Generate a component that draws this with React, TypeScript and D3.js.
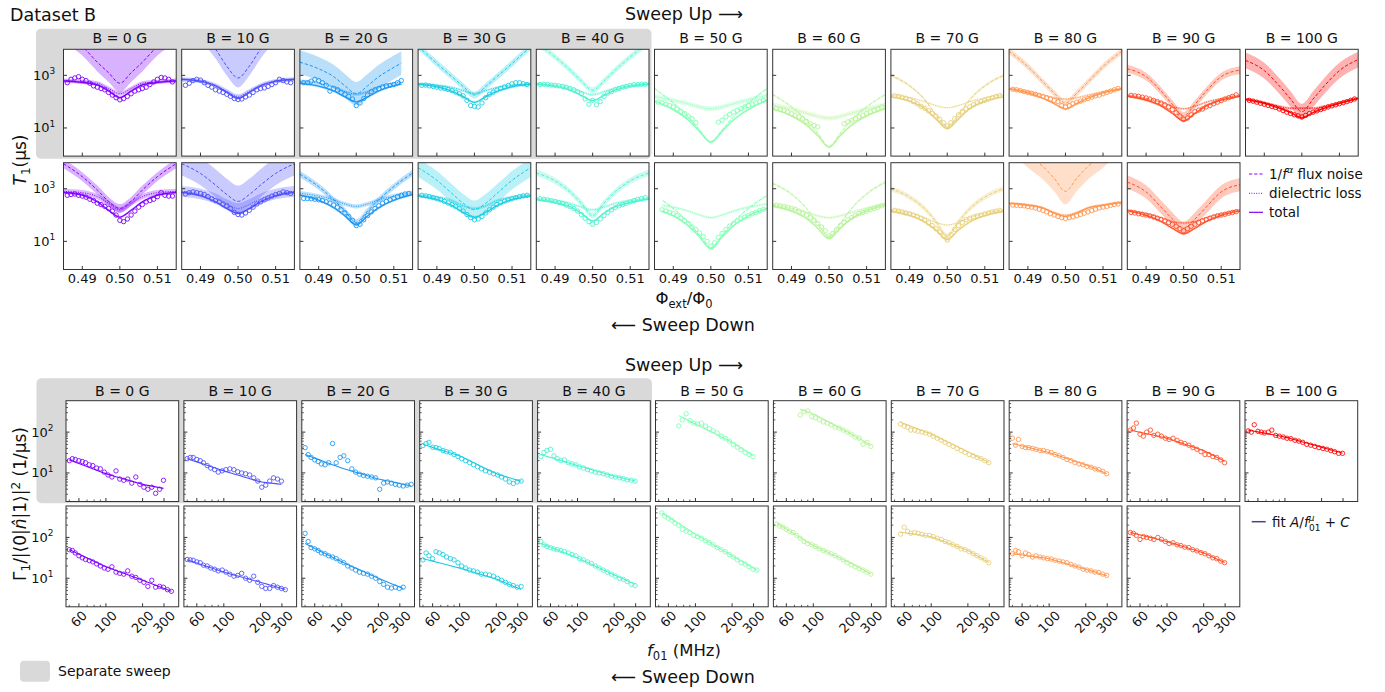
import React from "react";
import * as d3 from "d3";

const FONT = "'DejaVu Sans', Verdana, sans-serif";
const W = 1385;
const H = 692;

// ---------------- data ----------------
const FIELDS = [0, 10, 20, 30, 40, 50, 60, 70, 80, 90, 100];
const FLUX_GRID = [0.486, 0.487, 0.488, 0.489, 0.49, 0.491, 0.492, 0.493, 0.494, 0.495, 0.496, 0.497, 0.498, 0.499, 0.5, 0.501, 0.502, 0.503, 0.504, 0.505, 0.506, 0.507, 0.508, 0.509, 0.51, 0.511, 0.512, 0.513, 0.514];
const CURVE_FLUX = [0.485, 0.49, 0.494, 0.497, 0.5, 0.503, 0.506, 0.51, 0.515];
const FLUX_TICKS = [0.49, 0.5, 0.51];
const FLUX_TICK_LABELS = ["0.49", "0.50", "0.51"];
const T1_YTICKS = [10, 1000];
const T1_YTICK_EXP = ["1", "3"];

// log10(T1 / us), sweep up (top row)
const t1UpData: (number | null)[][] = [
  [2.72, 2.85, 2.9, 2.95, 2.85, 2.8, 2.7, 2.6, 2.55, 2.5, 2.45, 2.35, 2.25, 2.15, 2.07, 2.12, 2.2, 2.3, 2.4, 2.45, 2.5, 2.55, 2.65, 2.75, 2.85, 2.92, 2.9, 2.85, 2.75],
  [2.62, 2.7, 2.8, 2.85, 2.82, 2.72, 2.62, 2.55, 2.45, 2.4, 2.35, 2.28, 2.2, 2.12, 2.08, 2.1, 2.18, 2.25, 2.35, 2.45, 2.5, 2.52, 2.58, 2.65, 2.72, 2.85, 2.8, 2.75, 2.72],
  [2.72, 2.72, 2.78, 2.85, 2.8, 2.72, 2.62, 2.4, 2.5, 2.45, 2.35, 2.28, 2.2, 2.1, 1.85, 1.95, 2.12, 2.25, 2.38, 2.45, 2.5, 2.56, 2.6, 2.62, 2.65, 2.72, 2.8, null, null],
  [2.62, 2.63, 2.6, 2.58, 2.55, 2.52, 2.5, 2.46, 2.42, 2.36, 2.3, 2.22, 2.05, 1.85, 1.82, 1.8, 1.95, 2.15, 2.28, 2.36, 2.44, 2.5, 2.56, 2.62, 2.68, 2.72, 2.72, 2.68, 2.65],
  [2.65, 2.66, 2.65, 2.63, 2.62, 2.6, 2.58, 2.55, 2.5, 2.45, 2.38, 2.3, 2.1, 1.9, 2.05, 1.88, 2.0, 2.2, 2.32, 2.38, 2.45, 2.5, 2.55, 2.58, 2.62, 2.64, 2.65, 2.66, 2.66],
  [1.98, 1.95, 1.9, 1.85, 1.8, 1.72, 1.62, 1.55, 1.45, 1.35, 1.2, null, null, null, null, null, 1.22, 1.3, 1.42, 1.52, 1.6, 1.67, 1.73, 1.8, 1.85, 1.9, 1.95, 2.0, 2.05],
  [1.73, 1.7, 1.67, 1.61, 1.54, 1.48, 1.42, 1.35, 1.25, 1.16, 1.1, 1.04, null, null, null, null, null, null, 1.16, 1.23, 1.29, 1.35, 1.42, 1.48, 1.55, 1.61, 1.67, 1.73, 1.8],
  [2.22, 2.2, 2.17, 2.13, 2.08, 2.0, 1.92, 1.82, 1.75, 1.65, 1.55, 1.45, 1.33, 1.2, 1.08, 1.2, 1.35, 1.5, 1.62, 1.72, 1.8, 1.88, 1.95, 2.0, 2.05, 2.1, 2.15, 2.2, 2.23],
  [2.47, 2.45, 2.42, 2.38, 2.35, 2.32, 2.28, 2.24, 2.2, 2.15, 2.1, 2.05, 2.0, 1.85, 1.8, 1.85, 1.92, 1.98, 2.02, 2.07, 2.12, 2.17, 2.22, 2.25, 2.3, 2.35, 2.4, 2.45, 2.5],
  [2.24, 2.22, 2.2, 2.17, 2.14, 2.1, 2.05, 2.0, 1.95, 1.88, 1.8, 1.7, 1.58, 1.45, 1.32, 1.38, 1.5, 1.62, 1.68, 1.72, 1.8, 1.85, 1.92, 1.98, 2.04, 2.1, 2.15, 2.2, 2.26],
  [2.05, 2.02, 1.98, 1.94, 1.9, 1.86, 1.82, 1.78, 1.72, 1.66, 1.6, 1.55, 1.5, 1.46, 1.42, 1.48, 1.55, 1.6, 1.65, 1.7, 1.75, 1.8, 1.84, 1.88, 1.92, 1.96, 2.0, 2.05, 2.1],
];
// 1/f^alpha flux-noise limit (log10 us) at CURVE_FLUX
const t1UpFlux = [
  [4.6, 4.1, 3.5, 3.1, 2.7, 3.1, 3.5, 4.1, 4.6],
  [5.5, 4.7, 4.0, 3.35, 2.9, 3.35, 4.0, 4.7, 5.5],
  [3.5, 3.25, 2.95, 2.6, 2.3, 2.6, 2.95, 3.3, 3.7],
  [4.1, 3.45, 2.95, 2.58, 2.25, 2.58, 2.95, 3.45, 4.1],
  [4.25, 3.7, 3.2, 2.78, 2.43, 2.78, 3.2, 3.7, 4.25],
  [2.5, 1.95, 1.42, 0.92, 0.48, 0.92, 1.42, 1.95, 2.5],
  [2.27, 1.8, 1.3, 0.8, 0.3, 0.8, 1.3, 1.8, 2.27],
  [3.0, 2.6, 2.08, 1.5, 1.05, 1.5, 2.08, 2.6, 3.0],
  [3.92, 3.33, 2.75, 2.32, 1.95, 2.32, 2.75, 3.33, 3.92],
  [3.25, 2.95, 2.4, 1.9, 1.45, 1.9, 2.4, 2.95, 3.2],
  [3.57, 3.18, 2.6, 2.1, 1.62, 2.1, 2.6, 3.18, 3.6],
];
const t1UpFluxBand = [[0.35, 2], [0.36, 2], [0.45, 0.45], [0.13, 0.13], [0.12, 0.12], [0.04, 0.04], [0.04, 0.04], [0.05, 0.05], [0.12, 0.12], [0.15, 0.15], [0.3, 0.3]];
// dielectric-loss limit (log10 us)
const t1UpDiel = [
  [2.8, 2.75, 2.7, 2.5, 2.3, 2.5, 2.7, 2.75, 2.8],
  [2.85, 2.78, 2.62, 2.4, 2.2, 2.4, 2.62, 2.78, 2.85],
  [2.78, 2.7, 2.55, 2.38, 2.28, 2.38, 2.55, 2.7, 2.8],
  [2.68, 2.62, 2.54, 2.42, 2.3, 2.42, 2.54, 2.62, 2.68],
  [2.68, 2.62, 2.52, 2.38, 2.26, 2.38, 2.52, 2.62, 2.68],
  [2.2, 2.05, 1.92, 1.8, 1.73, 1.8, 1.92, 2.07, 2.25],
  [1.88, 1.72, 1.56, 1.44, 1.37, 1.44, 1.56, 1.72, 1.88],
  [2.26, 2.15, 2.0, 1.85, 1.77, 1.85, 2.0, 2.15, 2.26],
  [2.5, 2.38, 2.25, 2.15, 2.1, 2.15, 2.25, 2.38, 2.5],
  [2.25, 2.12, 1.98, 1.82, 1.73, 1.82, 1.98, 2.12, 2.25],
  [2.1, 1.96, 1.82, 1.75, 1.75, 1.75, 1.82, 1.96, 2.14],
];
const t1UpDielBand = [0.08, 0.08, 0.06, 0.05, 0.05, 0.09, 0.09, 0.03, 0.04, 0.04, 0.05];

// sweep down (bottom row, B = 0..90 G)
const t1DownData: (number | null)[][] = [
  [2.75, 2.78, 2.8, 2.75, 2.72, 2.68, 2.6, 2.55, 2.45, 2.4, 2.33, 2.25, 2.15, 2.0, 1.8, 1.75, 1.85, 2.0, 2.15, 2.3, 2.4, 2.5, 2.55, 2.6, 2.7, 2.85, 2.75, 2.72, 2.72],
  [2.8, 2.85, 2.88, 2.85, 2.82, 2.78, 2.7, 2.62, 2.55, 2.5, 2.42, 2.35, 2.25, 2.1, 2.02, 2.0, 2.08, 2.18, 2.3, 2.42, 2.5, 2.58, 2.65, 2.72, 2.78, 2.82, 2.88, 2.85, 2.82],
  [2.63, 2.63, 2.62, 2.6, 2.58, 2.55, 2.5, 2.45, 2.38, 2.3, 2.2, 2.08, 1.95, 1.8, 1.6, 1.65, 1.82, 1.98, 2.12, 2.25, 2.35, 2.45, 2.52, 2.58, 2.64, 2.7, 2.75, 2.8, 2.82],
  [2.75, 2.73, 2.7, 2.66, 2.62, 2.58, 2.52, 2.46, 2.4, 2.33, 2.25, 2.15, 2.02, 1.9, 1.82, 1.85, 1.95, 2.08, 2.2, 2.3, 2.4, 2.47, 2.53, 2.58, 2.62, 2.66, 2.7, 2.73, 2.75],
  [2.62, 2.6, 2.58, 2.55, 2.52, 2.48, 2.44, 2.38, 2.32, 2.25, 2.15, 2.02, 1.88, 1.75, 1.65, 1.72, 1.85, 1.98, 2.1, 2.2, 2.28, 2.35, 2.4, 2.45, 2.5, 2.55, 2.6, 2.63, 2.66],
  [null, 2.2, 2.15, 2.1, 2.05, 1.98, 1.88, 1.78, 1.68, 1.55, 1.45, 1.32, 1.18, 1.0, 0.82, 0.95, 1.15, 1.3, 1.45, 1.58, 1.68, 1.78, 1.85, 1.92, 1.98, 2.05, 2.1, 2.17, 2.22],
  [2.37, 2.35, 2.33, 2.3, 2.26, 2.22, 2.15, 2.08, 2.0, 1.9, 1.8, 1.68, 1.55, 1.4, 1.2, 1.3, 1.45, 1.6, 1.72, 1.82, 1.9, 1.98, 2.05, 2.1, 2.15, 2.2, 2.25, 2.3, 2.35],
  [2.18, 2.15, 2.12, 2.08, 2.05, 2.0, 1.95, 1.88, 1.8, 1.7, 1.6, 1.48, 1.35, 1.2, 1.05, 1.25, 1.45, 1.6, 1.72, 1.82, 1.88, 1.93, 1.97, 2.0, 2.04, 2.08, 2.12, 2.15, 2.18],
  [2.38, 2.37, 2.36, 2.35, 2.32, 2.3, 2.27, 2.22, 2.18, 2.12, 2.05, 2.0, 1.95, 1.9, 1.87, 1.9, 1.93, 1.97, 2.02, 2.07, 2.12, 2.17, 2.22, 2.27, 2.3, 2.33, 2.37, 2.4, 2.42],
  [2.1, 2.08, 2.05, 2.03, 2.0, 1.97, 1.93, 1.88, 1.83, 1.78, 1.72, 1.65, 1.57, 1.48, 1.4, 1.48, 1.57, 1.65, 1.72, 1.78, 1.83, 1.88, 1.93, 1.97, 2.0, 2.03, 2.07, 2.1, 2.13],
];
const t1DownFlux = [
  [3.95, 3.46, 2.95, 2.52, 2.25, 2.52, 2.95, 3.46, 3.95],
  [3.95, 3.58, 3.14, 2.78, 2.52, 2.78, 3.14, 3.58, 3.95],
  [3.55, 3.08, 2.58, 2.15, 1.72, 2.15, 2.58, 3.08, 3.6],
  [3.8, 3.32, 2.82, 2.45, 2.2, 2.45, 2.82, 3.32, 3.8],
  [3.6, 3.3, 2.88, 2.45, 1.98, 2.45, 2.88, 3.3, 3.6],
  [2.75, 2.25, 1.73, 1.23, 0.75, 1.23, 1.73, 2.25, 2.75],
  [3.2, 2.8, 2.25, 1.68, 1.18, 1.68, 2.25, 2.8, 3.25],
  [3.0, 2.68, 2.24, 1.75, 1.2, 1.75, 2.24, 2.68, 3.0],
  [5.0, 4.3, 3.85, 3.4, 2.9, 3.4, 3.85, 4.3, 5.0],
  [3.25, 2.88, 2.3, 1.85, 1.5, 1.85, 2.3, 2.88, 3.15],
];
const t1DownFluxBand = [[0.17, 0.17], [0.45, 0.6], [0.12, 0.12], [0.35, 0.35], [0.12, 0.12], [0.04, 0.04], [0.05, 0.05], [0.1, 0.1], [0.5, 2], [0.25, 0.25]];
const t1DownDiel = [
  [2.9, 2.85, 2.7, 2.45, 2.2, 2.45, 2.7, 2.85, 2.9],
  [2.9, 2.8, 2.62, 2.4, 2.25, 2.4, 2.62, 2.8, 2.9],
  [2.83, 2.72, 2.58, 2.42, 2.33, 2.42, 2.58, 2.72, 2.85],
  [2.76, 2.68, 2.55, 2.35, 2.25, 2.35, 2.55, 2.68, 2.76],
  [2.63, 2.55, 2.45, 2.3, 2.2, 2.3, 2.45, 2.55, 2.65],
  [2.4, 2.3, 2.15, 2.0, 1.9, 2.0, 2.15, 2.3, 2.42],
  [2.4, 2.25, 2.1, 1.97, 1.9, 1.97, 2.1, 2.27, 2.45],
  [2.2, 2.08, 1.9, 1.72, 1.62, 1.72, 1.9, 2.08, 2.2],
  [2.45, 2.38, 2.28, 2.1, 2.0, 2.1, 2.28, 2.38, 2.48],
  [2.2, 2.05, 1.9, 1.75, 1.7, 1.75, 1.9, 2.05, 2.2],
];
const t1DownDielBand = [0.1, 0.2, 0.08, 0.06, 0.05, 0.05, 0.05, 0.03, 0.04, 0.04];

// Gamma_1 / |<0|n|1>|^2  (log10 1/us) vs f01 (MHz)
const F_GRID = [50, 53, 56, 60, 64, 68, 73, 78, 84, 90, 97, 104, 112, 121, 130, 140, 151, 163, 176, 190, 205, 221, 238, 256, 276, 297, 320, 345, 372];
const F_TICKS_LABELED = [60, 100, 200, 300];
const F_TICKS_MINOR = [50, 70, 80, 90];
const G_YTICKS = [10, 100];
const G_YTICK_EXP = ["1", "2"];
const G_YMINOR = [3, 4, 5, 6, 7, 8, 9, 20, 30, 40, 50, 60, 70, 80, 90, 200, 300, 400, 500];
const FIT_F = [50, 100, 200, 300];

const gUpData: (number | null)[][] = [
  [1.3, 1.35, 1.33, 1.3, 1.28, 1.25, 1.2, 1.18, 1.12, 1.1, 1.02, 0.95, 0.9, 1.05, 0.85, 0.82, 0.85, 0.75, 0.9, 0.72, 0.65, 0.6, 0.65, 0.5, 0.6, 0.82, null, null, null],
  [1.35, 1.38, 1.38, 1.33, 1.3, 1.25, 1.18, 1.12, 1.08, 1.02, 1.05, 1.08, 1.1, 1.08, 1.03, 1.0, 0.98, 0.95, 0.88, 0.8, 0.65, 0.7, 0.8, 0.88, 0.85, 0.8, null, null, null],
  [1.62, 1.45, 1.38, 1.32, 1.28, 1.22, 1.2, 1.25, 1.72, 1.25, 1.38, 1.42, 1.3, 1.1, 1.02, 0.97, 0.94, 0.92, 0.9, 0.88, 0.6, 0.75, 0.78, 0.75, 0.72, 0.7, 0.68, 0.7, 0.72],
  [1.67, 1.72, 1.75, 1.63, 1.62, 1.6, 1.55, 1.52, 1.5, 1.45, 1.4, 1.35, 1.3, 1.25, 1.2, 1.15, 1.1, 1.05, 1.02, 0.98, 0.95, 0.9, 0.85, 0.78, 0.74, 0.78, 0.8, null, null],
  [1.4, 1.5, 1.55, 1.58, 1.42, 1.35, 1.3, 1.32, 1.25, 1.22, 1.2, 1.15, 1.12, 1.08, 1.05, 1.02, 1.0, 0.98, 0.95, 0.92, 0.9, 0.88, 0.86, 0.83, 0.82, 0.8, null, null, null],
  [null, null, null, null, null, null, 2.15, 2.3, 2.45, 2.28, 2.22, 2.2, 2.22, 2.15, 2.08, 2.03, 1.98, 1.9, 1.85, 1.78, 1.7, 1.63, 1.57, 1.5, 1.45, 1.4, null, null, null],
  [null, null, null, null, null, null, null, 2.42, 2.5, 2.52, 2.38, 2.35, 2.3, 2.25, 2.22, 2.18, 2.12, 2.1, 2.05, 2.0, 1.95, 1.88, 1.85, 1.7, 1.75, 1.65, null, null, null],
  [null, null, 2.2, 2.15, 2.12, 2.05, 2.05, 2.02, 2.0, 1.98, 1.95, 1.9, 1.85, 1.8, 1.75, 1.7, 1.65, 1.6, 1.55, 1.5, 1.45, 1.42, 1.38, 1.35, 1.3, 1.25, null, null, null],
  [1.85, 1.68, 1.82, 1.65, 1.62, 1.62, 1.6, 1.58, 1.55, 1.55, 1.52, 1.5, 1.45, 1.42, 1.38, 1.33, 1.3, 1.25, 1.22, 1.2, 1.16, 1.14, 1.1, 1.08, 1.04, 0.98, null, null, null],
  [2.05, 2.1, 2.22, 1.95, 1.9, 2.0, 2.05, 1.92, 1.95, 1.9, 1.85, 1.82, 1.85, 1.8, 1.75, 1.72, 1.68, 1.62, 1.58, 1.52, 1.45, 1.45, 1.4, 1.38, 1.32, 1.25, null, null, null],
  [2.03, 2.0, 2.18, 2.02, 2.0, 1.98, 2.0, 2.05, 1.92, 1.9, 1.88, 1.85, 1.84, 1.8, 1.78, 1.75, 1.7, 1.68, 1.65, 1.62, 1.6, 1.58, 1.55, 1.52, 1.48, 1.48, null, null, null],
];
const gUpFit = [
  [1.32, 0.98, 0.72, 0.62],
  [1.35, 1.05, 0.78, 0.72],
  [1.45, 1.12, 0.85, 0.74],
  [1.7, 1.42, 0.98, 0.82],
  [1.45, 1.18, 0.92, 0.8],
  [2.65, 2.2, 1.75, 1.42],
  [2.75, 2.45, 1.97, 1.67],
  [2.3, 1.95, 1.52, 1.25],
  [1.72, 1.5, 1.2, 0.98],
  [2.05, 1.85, 1.55, 1.28],
  [2.05, 1.88, 1.63, 1.48],
];
const gDownData: (number | null)[][] = [
  [1.7, 1.68, 1.62, 1.55, 1.5, 1.46, 1.43, 1.4, 1.35, 1.3, 1.25, 1.22, 1.28, 1.15, 1.12, 1.1, 1.18, 1.05, 1.02, 0.95, 0.9, 0.8, 0.95, 0.78, 0.8, 0.78, 0.72, 0.68, null],
  [1.46, 1.45, 1.44, 1.4, 1.38, 1.32, 1.3, 1.25, 1.22, 1.18, 1.2, 1.15, 1.1, 1.05, 1.07, 1.12, 1.0, 0.95, 1.05, 0.9, 0.8, 0.75, 0.75, 0.82, 0.78, 0.75, 0.72, null, null],
  [2.1, 1.9, 1.75, 1.72, 1.68, 1.62, 1.6, 1.55, 1.52, 1.48, 1.42, 1.38, 1.3, 1.25, 1.2, 1.15, 1.12, 1.1, 1.05, 1.0, 0.92, 0.85, 0.78, 0.76, 0.78, 0.75, 0.78, null, null],
  [1.45, 1.62, 1.55, 1.48, 1.65, 1.62, 1.58, 1.52, 1.48, 1.45, 1.38, 1.3, 1.25, 1.2, 1.18, 1.15, 1.1, 1.1, 1.08, 1.05, 1.0, 0.95, 0.9, 0.85, 0.82, 0.78, 0.8, null, null],
  [1.9, 1.82, 1.78, 1.75, 1.72, 1.7, 1.68, 1.65, 1.62, 1.58, 1.55, 1.48, 1.45, 1.4, 1.36, 1.3, 1.25, 1.2, 1.15, 1.1, 1.05, 1.0, 0.97, 0.92, 0.85, 0.82, null, null, null],
  [null, 2.6, 2.52, 2.47, 2.42, 2.35, 2.3, 2.2, 2.15, 2.12, 2.05, 2.02, 1.98, 1.92, 1.87, 1.82, 1.75, 1.7, 1.65, 1.58, 1.52, 1.45, 1.38, 1.35, 1.28, 1.22, 1.2, null, null],
  [2.33, 2.28, 2.25, 2.2, 2.15, 2.12, 2.05, 1.98, 1.9, 1.85, 1.82, 1.78, 1.72, 1.68, 1.64, 1.6, 1.55, 1.5, 1.45, 1.38, 1.33, 1.28, 1.24, 1.2, 1.15, 1.1, null, null, null],
  [null, null, 2.08, 2.25, 2.15, 2.1, 2.12, 2.1, 2.08, 2.05, 2.05, 2.02, 1.98, 1.95, 1.9, 1.87, 1.82, 1.78, 1.72, 1.7, 1.65, 1.6, 1.55, 1.5, 1.45, 1.38, null, null, null],
  [1.6, 1.68, 1.65, 1.55, 1.62, 1.58, 1.52, 1.55, 1.52, 1.5, 1.48, 1.47, 1.44, 1.42, 1.4, 1.38, 1.34, 1.3, 1.27, 1.22, 1.2, 1.18, 1.15, 1.14, 1.1, 1.07, null, null, null],
  [2.12, 2.1, 2.05, 1.95, 2.02, 2.0, 1.98, 1.95, 2.0, 1.95, 1.9, 1.85, 1.87, 1.82, 1.8, 1.76, 1.75, 1.7, 1.67, 1.63, 1.6, 1.55, 1.5, 1.48, 1.42, 1.38, null, null, null],
];
const gDownFit = [
  [1.7, 1.28, 0.95, 0.75],
  [1.45, 1.15, 0.9, 0.75],
  [1.85, 1.4, 1.0, 0.78],
  [1.48, 1.25, 0.98, 0.76],
  [1.85, 1.5, 1.08, 0.85],
  [2.65, 2.08, 1.55, 1.25],
  [2.35, 1.8, 1.38, 1.1],
  [2.15, 2.02, 1.68, 1.38],
  [1.6, 1.48, 1.22, 1.06],
  [2.12, 1.9, 1.62, 1.38],
];

// ---------------- layout ----------------
const PW = 112.7;
const T1_X0 = 63.5;
const T1_STEP = 118.2;
const T1_ROWS = [49.3, 162.7];
const T1_PH = 106.8;
const G_X0 = 66;
const G_STEP = 117.9;
const G_ROWS = [400.7, 506];
const G_PH = 100.8;
const FRAME = "#333";
const GRAY = "#d9d9d9";

const fluxScale = d3.scaleLinear().domain([0.485, 0.515]).range([0, PW]);
const t1Scale = d3.scaleLog().domain([10 ** -0.07, 10 ** 3.99]).range([T1_PH, 0]);
const fScale = d3.scaleLog().domain([47, 396]).range([0, PW]);
const gScale = d3.scaleLog().domain([10 ** 0.3, 10 ** 2.77]).range([G_PH, 0]);

function rainbow(t: number): string {
  const r = Math.min(1, Math.abs(2 * t - 0.5));
  const g = Math.max(0, Math.sin(Math.PI * t));
  const b = Math.max(0, Math.cos((Math.PI * t) / 2));
  return d3.rgb(Math.round(r * 255), Math.round(g * 255), Math.round(b * 255)).formatHex();
}

function lastIndex(arr: (number | null)[]): number {
  let i = arr.length - 1;
  while (i >= 0 && arr[i] == null) i--;
  return i;
}

function Pow10({ x, y, exp }: { x: number; y: number; exp: string }) {
  return (
    <text x={x} y={y} textAnchor="end" fontSize={13} fill="#111">
      10<tspan dy={-5.5} fontSize={9}>{exp}</tspan>
    </text>
  );
}

function T1Panel(props: {
  col: number; row: number; data: (number | null)[]; flux: number[]; diel: number[];
  fluxBand: number[]; dielBand: number; xLabels: boolean;
}) {
  const { col, row, data, flux, diel, fluxBand, dielBand, xLabels } = props;
  const color = rainbow(FIELDS[col] / 100);
  const x0 = T1_X0 + col * T1_STEP;
  const y0 = T1_ROWS[row];
  const total = flux.map((f, i) => -Math.log10(10 ** -f + 10 ** -diel[i]));
  const first = data.findIndex((v) => v != null);
  const last = lastIndex(data);
  const cx0 = first === 0 ? 0 : fluxScale(FLUX_GRID[first]);
  const cx1 = last === data.length - 1 ? PW : fluxScale(FLUX_GRID[last]);
  const line = d3.line<number>().x((_, i) => fluxScale(CURVE_FLUX[i])).y((v) => t1Scale(10 ** v)).curve(d3.curveMonotoneX);
  const band = (lo: number, hi: number) =>
    d3.area<number>().x((_, i) => fluxScale(CURVE_FLUX[i])).y0((v) => t1Scale(10 ** (v - lo))).y1((v) => t1Scale(10 ** (v + hi))).curve(d3.curveMonotoneX);
  const id = `t1c-${row}-${col}`;
  return (
    <g transform={`translate(${x0},${y0})`}>
      <defs>
        <clipPath id={id}><rect x={cx0} y={0} width={cx1 - cx0} height={T1_PH} /></clipPath>
        <clipPath id={id + "p"}><rect x={0} y={0} width={PW} height={T1_PH} /></clipPath>
      </defs>
      <rect width={PW} height={T1_PH} fill="#fff" />
      <g clipPath={`url(#${id})`}>
        <path d={band(fluxBand[0], fluxBand[1])(flux) || ""} fill={color} fillOpacity={0.3} />
        <path d={band(dielBand, dielBand)(diel) || ""} fill={color} fillOpacity={0.28} />
        <path d={band(0.05, 0.05)(total) || ""} fill={color} fillOpacity={0.28} />
        <path d={line(flux) || ""} fill="none" stroke={color} strokeWidth={1} strokeDasharray="3.2,2" />
        <path d={line(diel) || ""} fill="none" stroke={color} strokeWidth={1} strokeDasharray="1,1.4" />
        <path d={line(total) || ""} fill="none" stroke={color} strokeWidth={1.2} />
      </g>
      <g clipPath={`url(#${id}p)`}>
        {data.map((v, i) =>
          v == null ? null : (
            <circle key={i} cx={fluxScale(FLUX_GRID[i])} cy={t1Scale(10 ** v)} r={2.2} fill="none" stroke={color} strokeWidth={1} strokeOpacity={0.9} />
          )
        )}
      </g>
      <rect width={PW} height={T1_PH} fill="none" stroke={FRAME} strokeWidth={1} />
      {FLUX_TICKS.map((t) => (
        <line key={t} x1={fluxScale(t)} x2={fluxScale(t)} y1={T1_PH} y2={T1_PH - 3.5} stroke={FRAME} strokeWidth={1} />
      ))}
      {T1_YTICKS.map((t) => (
        <line key={t} x1={0} x2={3.5} y1={t1Scale(t)} y2={t1Scale(t)} stroke={FRAME} strokeWidth={1} />
      ))}
      {xLabels &&
        FLUX_TICKS.map((t, i) => (
          <text key={t} x={fluxScale(t)} y={T1_PH + 13.5} textAnchor="middle" fontSize={13} fill="#111">
            {FLUX_TICK_LABELS[i]}
          </text>
        ))}
      {col === 0 &&
        T1_YTICKS.map((t, i) => <Pow10 key={t} x={-8.3} y={t1Scale(t) + 4.5} exp={T1_YTICK_EXP[i]} />)}
    </g>
  );
}

function GPanel(props: { col: number; row: number; data: (number | null)[]; fit: number[]; xLabels: boolean }) {
  const { col, row, data, fit, xLabels } = props;
  const color = rainbow(FIELDS[col] / 100);
  const x0 = G_X0 + col * G_STEP;
  const y0 = G_ROWS[row];
  const first = data.findIndex((v) => v != null);
  const last = lastIndex(data);
  const fitScale = d3.scaleLinear().domain(FIT_F.map(Math.log10)).range(fit);
  const fitF = F_GRID.slice(first, last + 1);
  const fitLine = d3.line<number>().x((f) => fScale(f)).y((f) => gScale(10 ** fitScale(Math.log10(f)))).curve(d3.curveMonotoneX);
  const id = `gc-${row}-${col}`;
  return (
    <g transform={`translate(${x0},${y0})`}>
      <defs>
        <clipPath id={id}><rect x={0} y={0} width={PW} height={G_PH} /></clipPath>
      </defs>
      <rect width={PW} height={G_PH} fill="#fff" />
      <g clipPath={`url(#${id})`}>
        <path d={fitLine(fitF) || ""} fill="none" stroke={color} strokeWidth={1.1} />
        {data.map((v, i) =>
          v == null ? null : (
            <circle key={i} cx={fScale(F_GRID[i])} cy={gScale(10 ** v)} r={2.2} fill="none" stroke={color} strokeWidth={1} strokeOpacity={0.85} />
          )
        )}
      </g>
      <rect width={PW} height={G_PH} fill="none" stroke={FRAME} strokeWidth={1} />
      {F_TICKS_LABELED.map((t) => (
        <line key={t} x1={fScale(t)} x2={fScale(t)} y1={G_PH} y2={G_PH - 3.5} stroke={FRAME} strokeWidth={1} />
      ))}
      {F_TICKS_MINOR.map((t) => (
        <line key={t} x1={fScale(t)} x2={fScale(t)} y1={G_PH} y2={G_PH - 2} stroke={FRAME} strokeWidth={0.8} />
      ))}
      {G_YTICKS.map((t) => (
        <line key={t} x1={0} x2={3.5} y1={gScale(t)} y2={gScale(t)} stroke={FRAME} strokeWidth={1} />
      ))}
      {G_YMINOR.map((t) => (
        <line key={t} x1={0} x2={2} y1={gScale(t)} y2={gScale(t)} stroke={FRAME} strokeWidth={0.8} />
      ))}
      {xLabels &&
        F_TICKS_LABELED.map((t) => {
          const s = String(t);
          const w = s.length * 0.636 * 13;
          const half = (0.707 * (w + 9.5)) / 2;
          const cx = fScale(t);
          const cy = G_PH + 3 + half;
          return (
            <text key={t} x={0} y={0} transform={`translate(${cx},${cy}) rotate(-45)`} textAnchor="middle" dominantBaseline="central" fontSize={13} fill="#111">
              {s}
            </text>
          );
        })}
      {col === 0 &&
        G_YTICKS.map((t, i) => <Pow10 key={t} x={-12.5} y={gScale(t) + 4.5} exp={G_YTICK_EXP[i]} />)}
    </g>
  );
}

export default function App() {
  return (
    <svg width={W} height={H} viewBox={`0 0 ${W} ${H}`} style={{ position: "absolute", left: 0, top: 0, background: "#fff" }} fontFamily={FONT}>
      <rect width={W} height={H} fill="#fff" />
      {/* separate-sweep backgrounds */}
      <rect x={36} y={28.7} width={615.5} height={130} rx={5} fill={GRAY} />
      <rect x={36.5} y={378.3} width={615.5} height={125} rx={5} fill={GRAY} />

      <text x={10} y={20.5} fontSize={17.5} fill="#111">Dataset B</text>
      <text x={684} y={19.5} fontSize={17.5} textAnchor="middle" fill="#111">Sweep Up ⟶</text>
      <text x={684} y={370.5} fontSize={17.5} textAnchor="middle" fill="#111">Sweep Up ⟶</text>

      {FIELDS.map((b, i) => (
        <text key={"tt" + b} x={T1_X0 + i * T1_STEP + PW / 2} y={43.3} fontSize={14} textAnchor="middle" fill="#111">{`B = ${b} G`}</text>
      ))}
      {FIELDS.map((b, i) => (
        <text key={"gt" + b} x={G_X0 + i * G_STEP + PW / 2} y={395.5} fontSize={14} textAnchor="middle" fill="#111">{`B = ${b} G`}</text>
      ))}

      {t1UpData.map((d, i) => (
        <T1Panel key={"tu" + i} col={i} row={0} data={d} flux={t1UpFlux[i]} diel={t1UpDiel[i]} fluxBand={t1UpFluxBand[i]} dielBand={t1UpDielBand[i]} xLabels={false} />
      ))}
      {t1DownData.map((d, i) => (
        <T1Panel key={"td" + i} col={i} row={1} data={d} flux={t1DownFlux[i]} diel={t1DownDiel[i]} fluxBand={t1DownFluxBand[i]} dielBand={t1DownDielBand[i]} xLabels={true} />
      ))}
      {gUpData.map((d, i) => (
        <GPanel key={"gu" + i} col={i} row={0} data={d} fit={gUpFit[i]} xLabels={false} />
      ))}
      {gDownData.map((d, i) => (
        <GPanel key={"gd" + i} col={i} row={1} data={d} fit={gDownFit[i]} xLabels={true} />
      ))}

      {/* axis labels */}
      <text transform="translate(26,160) rotate(-90)" textAnchor="middle" fontSize={17} fill="#111">
        <tspan fontStyle="italic">T</tspan><tspan fontSize={12} dy={3.5}>1</tspan><tspan dy={-3.5}>(μs)</tspan>
      </text>
      <text x={684} y={303.5} textAnchor="middle" fontSize={16.5} fill="#111">
        Φ<tspan fontSize={11.5} dy={4}>ext</tspan><tspan dy={-4}>/Φ</tspan><tspan fontSize={11.5} dy={4}>0</tspan>
      </text>
      <text x={683} y={331} textAnchor="middle" fontSize={17.5} fill="#111">⟵ Sweep Down</text>

      <text transform="translate(26,504) rotate(-90)" textAnchor="middle" fontSize={17} fill="#111">
        Γ<tspan fontSize={12} dy={3.5}>1</tspan><tspan dy={-3.5}>/|⟨0|</tspan><tspan fontStyle="italic">n̂</tspan>
        <tspan>|1⟩|</tspan><tspan fontSize={12} dy={-6}>2</tspan><tspan dy={6}> (1/μs)</tspan>
      </text>
      <text x={684} y={656} textAnchor="middle" fontSize={16.5} fill="#111">
        <tspan fontStyle="italic">f</tspan><tspan fontSize={11.5} dy={4}>01</tspan><tspan dy={-4}> (MHz)</tspan>
      </text>
      <text x={683} y={683} textAnchor="middle" fontSize={17.5} fill="#111">⟵ Sweep Down</text>

      {/* T1 legend */}
      <g fontSize={13.5} fill="#111">
        <line x1={1249} x2={1263} y1={174} y2={174} stroke="#8000ff" strokeWidth={1} strokeDasharray="3.2,2" />
        <text x={1269} y={178.5}>
          1/<tspan fontStyle="italic">f</tspan><tspan fontSize={9.5} dy={-5.5} fontStyle="italic">α</tspan><tspan dy={5.5}> flux noise</tspan>
        </text>
        <line x1={1249} x2={1263} y1={193.3} y2={193.3} stroke="#8000ff" strokeWidth={1} strokeDasharray="1,1.4" />
        <text x={1269} y={198}>dielectric loss</text>
        <line x1={1249} x2={1263} y1={212.3} y2={212.3} stroke="#8000ff" strokeWidth={1.2} />
        <text x={1269} y={217}>total</text>
      </g>

      {/* Gamma legend */}
      <g fontSize={13.5} fill="#111">
        <line x1={1251.7} x2={1265.7} y1={521.7} y2={521.7} stroke="#553c8b" strokeWidth={1.5} />
        <text x={1272} y={526.5}>
          fit <tspan fontStyle="italic">A</tspan>/<tspan fontStyle="italic">f</tspan>
          <tspan fontSize={9} dy={-6} fontStyle="italic">μ</tspan>
          <tspan fontSize={9} dx={-5.5} dy={10}>01</tspan>
          <tspan dy={-4}> + </tspan><tspan fontStyle="italic">C</tspan>
        </text>
      </g>

      {/* separate sweep legend */}
      <rect x={20} y={660.7} width={30} height={21} rx={4} fill={GRAY} />
      <text x={58} y={676} fontSize={14} fill="#111">Separate sweep</text>
    </svg>
  );
}
